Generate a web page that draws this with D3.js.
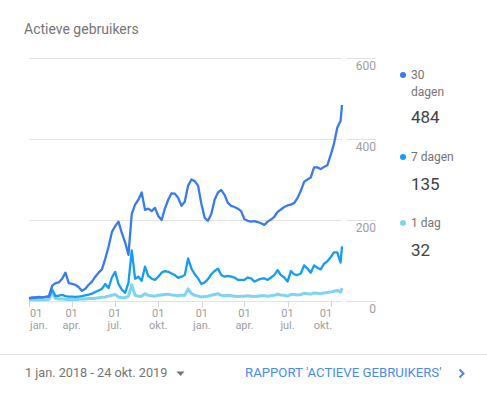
<!DOCTYPE html>
<html>
<head>
<meta charset="utf-8">
<script src="https://cdn.jsdelivr.net/npm/d3@7"></script>
<style>
  body { margin: 0; background: #fff; }
  text { font-family: Roboto, "Noto Sans", sans-serif; }
</style>
</head>
<body>
<div id="wrapper"></div>
<script>
// weekly readings, 1 jan. 2018 .. 24 okt. 2019
const startDate = "2018-01-01";
const endDate = "2019-10-24";

const users30 = [7, 8, 9, 10, 9, 10, 12, 38, 44, 46, 55, 70, 44, 42, 40, 34, 25, 30, 40, 48,
    60, 70, 78, 104, 134, 170, 185, 196, 168, 145, 114, 215, 238, 250, 268, 225, 228, 222, 230, 210,
    200, 228, 250, 266, 265, 255, 235, 245, 285, 300, 296, 285, 240, 205, 198, 215, 250, 268, 274, 262,
    242, 235, 232, 228, 222, 202, 198, 196, 197, 195, 192, 188, 196, 201, 208, 220, 226, 232, 236, 238,
    242, 254, 272, 294, 300, 305, 330, 330, 326, 331, 335, 360, 388, 428, 445, 484];

const users7 = [7, 8, 8, 9, 9, 10, 10, 28, 12, 13, 15, 12, 11, 11, 10, 11, 12, 14, 16, 18,
    22, 26, 30, 42, 32, 58, 72, 42, 28, 20, 45, 125, 55, 60, 50, 85, 62, 55, 52, 60,
    70, 74, 72, 68, 64, 57, 60, 64, 105, 80, 66, 56, 42, 46, 54, 66, 74, 80, 64, 60,
    62, 60, 58, 52, 52, 52, 58, 56, 48, 52, 55, 56, 52, 58, 64, 76, 64, 58, 48, 74,
    66, 64, 68, 88, 80, 70, 88, 82, 78, 92, 98, 108, 120, 120, 95, 135];

const users1 = [3, 3, 3, 3, 3, 3, 4, 20, 6, 5, 5, 4, 4, 4, 4, 4, 5, 5, 6, 6,
    7, 8, 9, 10, 12, 14, 16, 10, 8, 8, 12, 40, 14, 12, 12, 18, 14, 13, 12, 14,
    15, 16, 17, 15, 14, 13, 14, 14, 30, 18, 14, 12, 10, 11, 12, 14, 16, 18, 14, 13,
    14, 13, 12, 11, 12, 12, 13, 12, 11, 12, 13, 13, 12, 13, 14, 17, 15, 14, 12, 16,
    16, 15, 16, 19, 18, 17, 20, 19, 18, 20, 21, 22, 24, 26, 22, 32];

const seriesNames = ["30\ndagen", "7 dagen", "1 dag"];
const seriesTotals = [484, 135, 32];
const seriesColors = ["#3a7bec", "#159cf4", "#7fd5f1"];

const yTicks = [0, 200, 400, 600];
const xTickDates = ["2018-01-01", "2018-04-01", "2018-07-01", "2018-10-01",
    "2019-01-01", "2019-04-01", "2019-07-01", "2019-10-01"];
const xTickDays = ["01", "01", "01", "01", "01", "01", "01", "01"];
const xTickMonths = ["jan.", "apr.", "jul.", "okt.", "jan.", "apr.", "jul.", "okt."];

function buildChart() {
    const parseDate = d3.timeParse("%Y-%m-%d");
    const start = parseDate(startDate);
    const end = parseDate(endDate);
    const dates = d3.range(users30.length - 1).map(i => d3.timeDay.offset(start, i * 7));
    dates.push(end);

    var dimension = {
        width: 487,
        height: 393,
        plot: { left: 29, right: 342, top: 58, bottom: 301 }
    };

    const svg = d3.select("#wrapper").append("svg")
        .attr("width", dimension.width)
        .attr("height", dimension.height);

    svg.append("text")
        .attr("x", 24)
        .attr("y", 34)
        .style("font-size", "14px")
        .attr("fill", "#757575")
        .text("Actieve gebruikers");

    const xScaler = d3.scaleTime()
        .domain([start, end])
        .range([dimension.plot.left, dimension.plot.right]);

    const yScaler = d3.scaleLinear()
        .domain([0, 600])
        .range([dimension.plot.bottom, dimension.plot.top]);

    // gridlines + right axis
    const grid = svg.append("g");
    grid.selectAll("line.grid")
        .data(yTicks)
        .join("line")
        .attr("class", "grid")
        .attr("x1", dimension.plot.left)
        .attr("x2", dimension.plot.right)
        .attr("y1", d => yScaler(d) + 0.5)
        .attr("y2", d => yScaler(d) + 0.5)
        .attr("stroke", "#e3e3e3");
    grid.selectAll("line.stub")
        .data(yTicks)
        .join("line")
        .attr("class", "stub")
        .attr("x1", 346)
        .attr("x2", 376)
        .attr("y1", d => yScaler(d) + 0.5)
        .attr("y2", d => yScaler(d) + 0.5)
        .attr("stroke", "#e3e3e3");
    grid.selectAll("text")
        .data(yTicks)
        .join("text")
        .attr("x", 376)
        .attr("y", d => yScaler(d) + 12)
        .attr("text-anchor", "end")
        .style("font-size", "12px")
        .attr("fill", "#9e9e9e")
        .text(d => d);

    // x axis ticks
    const xAxis = svg.append("g");
    const tickX = xTickDates.map(d => xScaler(parseDate(d)));
    xAxis.selectAll("line")
        .data(tickX)
        .join("line")
        .attr("x1", d => Math.round(d) + 0.5)
        .attr("x2", d => Math.round(d) + 0.5)
        .attr("y1", dimension.plot.bottom)
        .attr("y2", dimension.plot.bottom + 6)
        .attr("stroke", "#d6d6d6");
    const anchorFor = (i) => i === 0 ? "start" : (i === tickX.length - 1 ? "end" : "middle");
    const offsetFor = (i) => i === 0 ? 1 : (i === tickX.length - 1 ? 1 : 0);
    xAxis.selectAll("text.day")
        .data(xTickDays)
        .join("text")
        .attr("class", "day")
        .attr("x", (d, i) => tickX[i] + offsetFor(i))
        .attr("y", 317)
        .attr("text-anchor", (d, i) => anchorFor(i))
        .style("font-size", "11px")
        .attr("fill", "#9e9e9e")
        .text(d => d);
    xAxis.selectAll("text.month")
        .data(xTickMonths)
        .join("text")
        .attr("class", "month")
        .attr("x", (d, i) => tickX[i] + offsetFor(i))
        .attr("y", 329)
        .attr("text-anchor", (d, i) => anchorFor(i))
        .style("font-size", "11px")
        .attr("fill", "#9e9e9e")
        .text(d => d);

    var lineGenerator = d3.line()
        .x((d, i) => xScaler(dates[i]))
        .y(d => yScaler(d));

    const allSeries = [users1, users7, users30];
    const allColors = [seriesColors[2], seriesColors[1], seriesColors[0]];
    svg.append("g")
        .selectAll("path")
        .data(allSeries)
        .join("path")
        .attr("d", d => lineGenerator(d))
        .attr("fill", "none")
        .attr("stroke", (d, i) => allColors[i])
        .attr("stroke-width", (d, i) => i === 0 ? 3 : 2.3)
        .attr("stroke-linejoin", "round");

    // legend
    const legendTop = [75, 157, 223];
    const valueY = [123, 190, 256];
    const legend = svg.append("g");
    seriesNames.forEach((name, i) => {
        legend.append("circle")
            .attr("cx", 403)
            .attr("cy", legendTop[i])
            .attr("r", 3)
            .attr("fill", seriesColors[i]);
        const label = legend.append("text")
            .attr("x", 411)
            .attr("y", legendTop[i] + 4)
            .style("font-size", "12px")
            .attr("fill", "#757575");
        name.split("\n").forEach((part, j) => {
            label.append("tspan")
                .attr("x", 411)
                .attr("dy", j === 0 ? 0 : 17)
                .text(part);
        });
        legend.append("text")
            .attr("x", 411)
            .attr("y", valueY[i])
            .style("font-size", "17px")
            .attr("fill", "#424242")
            .text(seriesTotals[i]);
    });

    // footer
    svg.append("line")
        .attr("x1", 0)
        .attr("x2", dimension.width)
        .attr("y1", 354.5)
        .attr("y2", 354.5)
        .attr("stroke", "#e0e0e0");
    svg.append("text")
        .attr("x", 25)
        .attr("y", 377)
        .style("font-size", "12.7px")
        .attr("fill", "#757575")
        .text("1 jan. 2018 - 24 okt. 2019");
    svg.append("path")
        .attr("d", "M176.5,371.5 L184.5,371.5 L180.5,376 Z")
        .attr("fill", "#757575");
    svg.append("text")
        .attr("x", 245)
        .attr("y", 377)
        .style("font-size", "13.2px")
        .attr("fill", "#4a8af4")
        .text("RAPPORT 'ACTIEVE GEBRUIKERS'");
    svg.append("path")
        .attr("d", "M459.5,369.5 L463.5,373.5 L459.5,377.5")
        .attr("fill", "none")
        .attr("stroke", "#4a8af4")
        .attr("stroke-width", 2);
}

buildChart();
</script>
</body>
</html>
